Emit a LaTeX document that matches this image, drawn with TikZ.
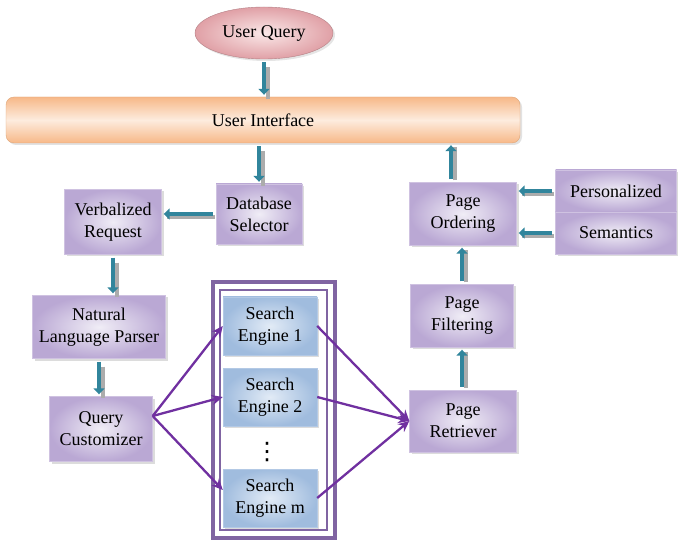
\documentclass[tikz,border=0pt]{standalone}
\usepackage{fontspec}
\setmainfont{Liberation Serif}
\newfontfamily\symfont{DejaVu Sans}
\usetikzlibrary{positioning,arrows.meta,shadows,shapes.geometric}

\definecolor{boxedge}{RGB}{186,168,212}
\definecolor{boxmid}{RGB}{240,237,246}
\definecolor{seedge}{RGB}{160,188,222}
\definecolor{semid}{RGB}{226,235,246}
\definecolor{uiedge}{RGB}{247,184,136}
\definecolor{uimid}{RGB}{253,236,222}
\definecolor{uqedge}{RGB}{224,160,166}
\definecolor{uqmid}{RGB}{250,232,232}
\definecolor{flowteal}{RGB}{49,133,156}
\definecolor{linkpurple}{RGB}{112,48,160}
\definecolor{framepurple}{RGB}{128,100,162}

\begin{document}
\begin{tikzpicture}[x=1pt,y=-1pt]
	\tikzset{box/.style={shading=radial,inner color=boxmid,outer color=boxedge,
		draw=boxedge!70,inner sep=0pt,align=center,
		font=\fontsize{18}{22}\selectfont,
		drop shadow={shadow xshift=2pt,shadow yshift=-2pt,fill=gray!55}}}
	\tikzset{engine/.style={box,inner color=semid,outer color=seedge,draw=seedge!80,
		minimum width=94pt,minimum height=58pt}}
	\tikzset{flow/.style={flowteal,line width=4pt,shorten <=3pt,shorten >=2pt,
		-{Triangle[length=6pt,width=11pt]},
		preaction={draw=gray!65,line width=3.5pt,-,shorten <=5pt,shorten >=1pt,
			transform canvas={shift={(4pt,-3pt)}}}}}
	\tikzset{link/.style={linkpurple,line width=2.3pt,-{Stealth[length=11pt,width=10pt]}}}
	\useasboundingbox (0,0) rectangle (678,540);

	%% top
	\node[ellipse,minimum width=138pt,minimum height=52pt,shading=radial,
		inner color=uqmid,outer color=uqedge,draw=uqedge!80!black,
		font=\fontsize{18}{22}\selectfont,
		drop shadow={shadow xshift=2pt,shadow yshift=-2pt,fill=gray!40}] (uq) at (264,33) {User Query};
	\node[rounded corners=8pt,minimum width=514pt,minimum height=46pt,
		top color=uiedge,bottom color=uiedge,middle color=uimid,draw=uiedge!90!black,
		font=\fontsize{18}{22}\selectfont,
		drop shadow={shadow xshift=2pt,shadow yshift=-2pt,fill=gray!45}] (ui) at (263,120) {User Interface};

	%% left column
	\node[box,minimum width=86pt,minimum height=60pt] (ds) at (259,214) {Database\\Selector};
	\node[box,minimum width=97pt,minimum height=65pt] (vr) at (113,222) {Verbalized\\Request};
	\node[box,minimum width=133pt,minimum height=63pt] (nlp) at (99,327) {Natural\\Language Parser};
	\node[box,minimum width=103pt,minimum height=65pt] (qc) at (101,429) {Query\\Customizer};

	%% search engines
	\draw[framepurple,line width=4pt] (213,282) rectangle (335,538);
	\draw[framepurple,line width=1.5pt] (220,290) rectangle (327,530);
	\node[engine] (se1) at (270,326) {Search\\Engine 1};
	\node[engine] (se2) at (270,397) {Search\\Engine 2};
	\node[font=\symfont\fontsize{24}{26}\selectfont,inner sep=0pt] (dots) at (267,452) {⋮};
	\node[engine] (sem) at (270,498) {Search\\Engine m};

	%% right column
	\node[box,minimum width=107pt,minimum height=62pt] (pr) at (463,421) {Page\\Retriever};
	\node[box,minimum width=103pt,minimum height=63pt] (pf) at (462,316) {Page\\Filtering};
	\node[box,minimum width=107pt,minimum height=63pt] (po) at (463,214) {Page\\Ordering};
	\node[box,minimum width=121pt,minimum height=42pt] (pers) at (616,191) {Personalized};
	\node[box,minimum width=121pt,minimum height=42pt] (semx) at (616,233) {Semantics};

	%% flow arrows
	\draw[flow] (uq.south) -- (uq.south |- ui.north);
	\draw[flow] (ui.south -| ds.north) -- (ds.north);
	\draw[flow] (ds.west) -- (ds.west -| vr.east);
	\draw[flow] (vr.south) -- (vr.south |- nlp.north);
	\draw[flow] (nlp.south) -- (nlp.south |- qc.north);
	\draw[flow] (pr.north -| pf.north) -- (pf.south);
	\draw[flow] (pf.north) -- (pf.north |- po.south);
	\draw[flow] ([xshift=-12pt]po.north) -- ([xshift=-12pt]po.north |- ui.south);
	\draw[flow] (pers.west) -- (pers.west -| po.east);
	\draw[flow] (semx.west) -- (semx.west -| po.east);

	%% engine links
	\draw[link] ([yshift=13pt]qc.east) -- (se1.west);
	\draw[link] ([yshift=13pt]qc.east) -- (se2.west);
	\draw[link] ([yshift=13pt]qc.east) -- ([yshift=8pt]sem.west);
	\draw[link] (se1.east) -- (pr.west);
	\draw[link] (se2.east) -- (pr.west);
	\draw[link] (sem.east) -- (pr.west);
\end{tikzpicture}
\end{document}
